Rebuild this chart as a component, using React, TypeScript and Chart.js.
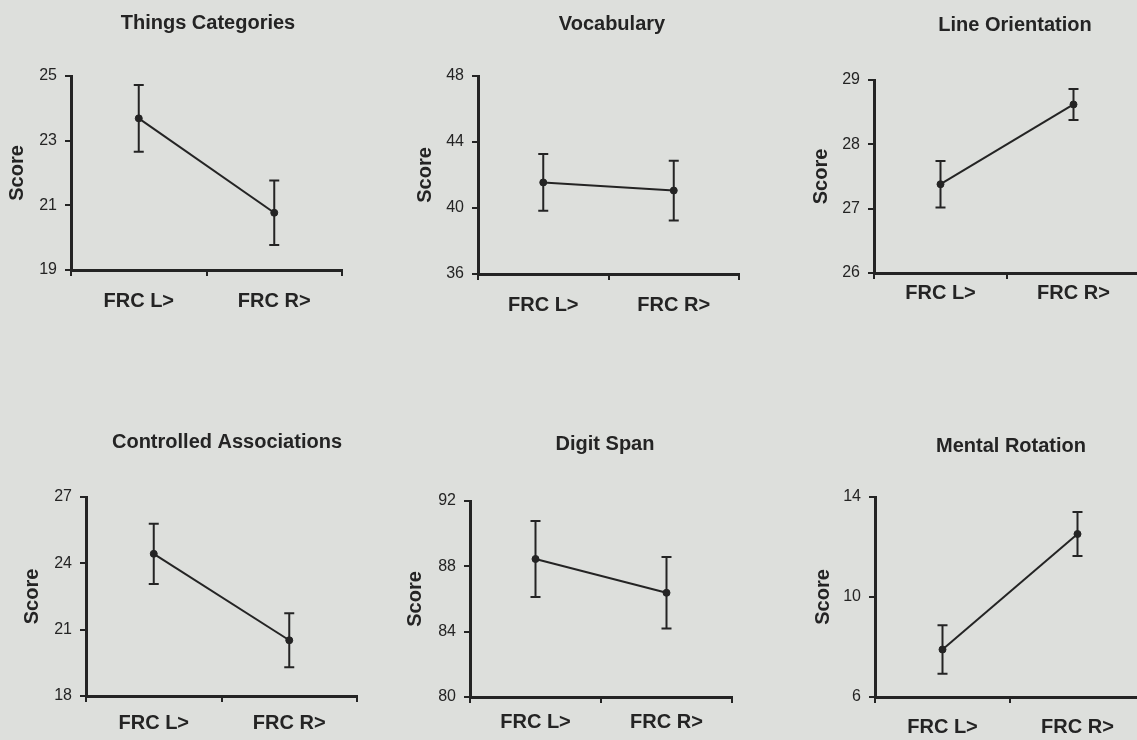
import { useEffect, useRef } from "react";
import { Chart, registerables } from "chart.js";

Chart.register(...registerables);

// ---- data ----
const groups = ["FRC L>", "FRC R>"];
const titles = [
  "Things Categories",
  "Vocabulary",
  "Line Orientation",
  "Controlled Associations",
  "Digit Span",
  "Mental Rotation",
];
const thingsMean = [23.69, 20.77];
const thingsErr = [1.03, 1.0];
const vocabMean = [41.55, 41.06];
const vocabErr = [1.72, 1.81];
const lineMean = [27.38, 28.62];
const lineErr = [0.36, 0.24];
const assocMean = [24.43, 20.52];
const assocErr = [1.36, 1.22];
const digitMean = [88.45, 86.38];
const digitErr = [2.33, 2.19];
const rotMean = [7.9, 12.52];
const rotErr = [0.97, 0.88];
const yMin = [19, 36, 26, 18, 80, 6];
const yMax = [25, 48, 29, 27, 92, 14];
const yStep = [2, 4, 1, 3, 4, 4];
const yTitle = "Score";

const means = [thingsMean, vocabMean, lineMean, assocMean, digitMean, rotMean];
const errs = [thingsErr, vocabErr, lineErr, assocErr, digitErr, rotErr];

// ---- layout (page coordinates) ----
type Layout = {
  cl: number; ct: number; cw: number; ch: number;
  L: number; R: number; T: number; B: number;
  scoreX: number; xPad: number; tx: number; ty: number;
};
const layouts: Layout[] = [
  { cl: 0, ct: 0, cw: 380, ch: 330, L: 71, R: 342, T: 76, B: 270, scoreX: 17, xPad: 13, tx: 208, ty: 28.5 },
  { cl: 380, ct: 0, cw: 377, ch: 330, L: 478, R: 739, T: 76, B: 274, scoreX: 425, xPad: 13, tx: 612, ty: 29.5 },
  { cl: 757, ct: 0, cw: 400, ch: 330, L: 874, R: 1140, T: 80, B: 273, scoreX: 821, xPad: 2, tx: 1015, ty: 31 },
  { cl: 0, ct: 420, cw: 380, ch: 320, L: 86, R: 357, T: 497, B: 696, scoreX: 32, xPad: 9, tx: 227, ty: 448 },
  { cl: 380, ct: 420, cw: 377, ch: 320, L: 470, R: 732, T: 501, B: 697, scoreX: 415, xPad: 7, tx: 605, ty: 450 },
  { cl: 757, ct: 420, cw: 400, ch: 320, L: 875, R: 1145, T: 497, B: 697, scoreX: 823, xPad: 12, tx: 1011, ty: 451.5 },
];

const INK = "#242424";
const BG = "#dddfdc";
const FAMILY = '"Liberation Sans", Arial, Helvetica, sans-serif';

const errorBars = {
  id: "errorBars",
  beforeDatasetsDraw(chart: any, _args: any, opts: any) {
    const ctx = chart.ctx;
    const y = chart.scales.y;
    const errors: number[] = opts.errors || [];
    chart.data.datasets.forEach((ds: any, i: number) => {
      const meta = chart.getDatasetMeta(i);
      meta.data.forEach((pt: any, j: number) => {
        const v = ds.data[j];
        const e = errors[j];
        const top = y.getPixelForValue(v + e);
        const bot = y.getPixelForValue(v - e);
        ctx.save();
        ctx.strokeStyle = INK;
        ctx.lineWidth = 2;
        ctx.beginPath();
        ctx.moveTo(pt.x, top);
        ctx.lineTo(pt.x, bot);
        ctx.moveTo(pt.x - 5, top);
        ctx.lineTo(pt.x + 5, top);
        ctx.moveTo(pt.x - 5, bot);
        ctx.lineTo(pt.x + 5, bot);
        ctx.stroke();
        ctx.restore();
      });
    });
  },
};

const panelTitle = {
  id: "panelTitle",
  afterDraw(chart: any, _args: any, opts: any) {
    const ctx = chart.ctx;
    ctx.save();
    ctx.fillStyle = INK;
    ctx.font = `bold 20px ${FAMILY}`;
    ctx.textAlign = "center";
    ctx.textBaseline = "alphabetic";
    ctx.fillText(opts.text, opts.x, opts.y);
    ctx.restore();
  },
};

function Panel({ idx }: { idx: number }) {
  const ref = useRef<HTMLCanvasElement>(null);
  const lay = layouts[idx];
  useEffect(() => {
    if (!ref.current) return;
    const chart = new Chart(ref.current, {
      type: "line",
      data: {
        labels: groups,
        datasets: [
          {
            data: means[idx],
            borderColor: INK,
            borderWidth: 2,
            pointRadius: 3.5,
            pointBackgroundColor: INK,
            pointBorderColor: INK,
            pointBorderWidth: 1,
            tension: 0,
            fill: false,
          },
        ],
      },
      options: {
        responsive: false,
        animation: false,
        events: [],
        layout: {
          padding: { top: lay.T - lay.ct, right: lay.cl + lay.cw - lay.R, left: 0, bottom: 0 },
        },
        plugins: {
          legend: { display: false },
          tooltip: { enabled: false },
          title: { display: false },
          errorBars: { errors: errs[idx] },
          panelTitle: { text: titles[idx], x: lay.tx - lay.cl, y: lay.ty - lay.ct },
        } as any,
        scales: {
          x: {
            type: "category",
            offset: true,
            grid: {
              offset: true,
              drawOnChartArea: false,
              drawTicks: true,
              tickLength: 6,
              color: INK,
              lineWidth: 2,
            },
            border: { display: true, color: INK, width: 3 },
            ticks: {
              color: INK,
              font: { family: FAMILY, size: 20, weight: "bold" },
              padding: lay.xPad,
              maxRotation: 0,
              autoSkip: false,
            },
            afterFit: (s: any) => {
              s.height = lay.ct + lay.ch - lay.B;
            },
          },
          y: {
            type: "linear",
            min: yMin[idx],
            max: yMax[idx],
            ticks: {
              stepSize: yStep[idx],
              color: INK,
              font: { family: FAMILY, size: 16 },
              padding: 8,
            },
            grid: {
              drawOnChartArea: false,
              drawTicks: true,
              tickLength: 6,
              color: INK,
              lineWidth: 2,
            },
            border: { display: true, color: INK, width: 3 },
            title: {
              display: true,
              text: yTitle,
              color: INK,
              font: { family: FAMILY, size: 20, weight: "bold" },
              padding: { top: lay.scoreX - lay.cl - 12, bottom: 0 },
            },
            afterFit: (s: any) => {
              s.width = lay.L - lay.cl;
            },
          },
        },
      } as any,
      plugins: [errorBars, panelTitle],
    });
    return () => chart.destroy();
  }, [idx]);
  return (
    <canvas
      ref={ref}
      width={lay.cw}
      height={lay.ch}
      style={{ position: "absolute", left: lay.cl, top: lay.ct, width: lay.cw, height: lay.ch }}
    />
  );
}

export default function App() {
  return (
    <div
      style={{
        position: "fixed",
        left: 0,
        top: 0,
        width: 1137,
        height: 740,
        overflow: "hidden",
        background: BG,
      }}
    >
      {layouts.map((_, i) => (
        <Panel key={i} idx={i} />
      ))}
    </div>
  );
}
